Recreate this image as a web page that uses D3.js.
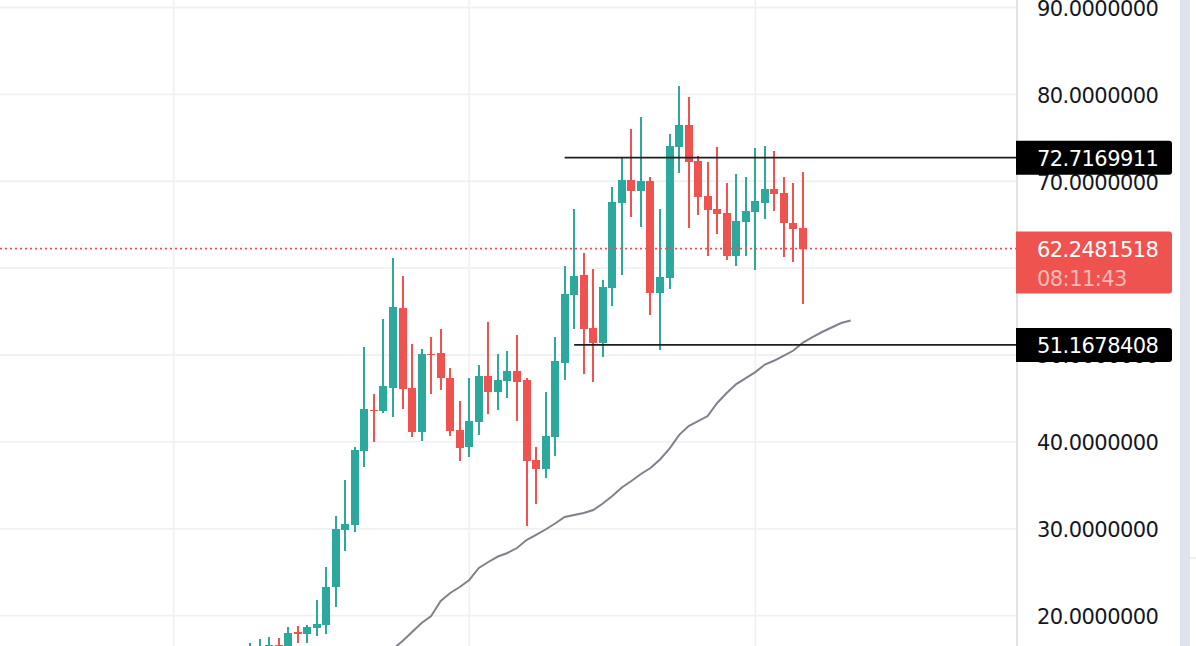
<!DOCTYPE html>
<html>
<head>
<meta charset="utf-8">
<script src="https://cdn.jsdelivr.net/npm/d3@7"></script>
<style>
  html, body { margin: 0; padding: 0; background: #fff; overflow: hidden; }
  svg { display: block; }
  text { font-family: "DejaVu Sans", sans-serif; font-size: 21px; letter-spacing: -0.55px; }
</style>
</head>
<body>
<svg id="chart" width="1196" height="646"></svg>
<script>
// one entry per daily bar, first bars are mostly below the visible area
const opens = [15.82, 15.82, 16.28, 16.63, 16.52, 18.07, 17.90, 18.59, 18.93, 23.30,
  29.86, 30.44, 38.95, 43.67, 43.56, 46.20, 55.41, 46.20, 41.14, 50.12,
  50.23, 47.35, 41.37, 39.41, 42.29, 47.58, 45.74, 47.01, 48.16, 47.12,
  37.92, 36.88, 40.56, 49.08, 56.90, 59.21, 53.11, 51.38, 57.71, 67.49,
  70.14, 68.87, 70.02, 57.13, 58.86, 73.93, 76.47, 72.32, 68.30, 66.80,
  66.34, 61.39, 65.30, 66.46, 67.49, 69.10, 68.64, 65.19, 64.61];
const highs = [16.86, 17.32, 17.55, 17.44, 18.70, 18.82, 18.93, 21.81, 25.61, 31.47,
  35.62, 39.41, 50.92, 45.51, 54.14, 61.16, 59.09, 51.27, 50.69, 52.07,
  52.99, 48.50, 44.71, 47.35, 48.85, 53.80, 50.12, 50.46, 52.30, 47.35,
  39.41, 45.74, 52.07, 60.24, 66.80, 61.74, 59.90, 58.63, 69.33, 72.67,
  76.01, 77.39, 70.48, 66.80, 75.43, 80.95, 79.69, 72.90, 72.21, 73.93,
  69.79, 70.83, 70.48, 73.82, 74.05, 73.47, 70.48, 69.79, 71.06];
const lows = [15.36, 15.48, 15.71, 15.82, 16.05, 16.86, 16.86, 17.67, 17.90, 21.00,
  27.45, 29.63, 37.11, 39.99, 43.33, 42.87, 43.79, 40.56, 40.10, 45.51,
  45.97, 40.68, 37.80, 38.26, 40.79, 43.21, 43.67, 45.05, 42.40, 30.32,
  32.85, 35.85, 38.38, 47.12, 52.99, 47.81, 46.89, 49.77, 55.64, 59.21,
  65.88, 64.73, 54.60, 50.57, 57.59, 70.94, 64.61, 66.11, 61.39, 63.92,
  60.93, 60.24, 61.39, 59.78, 65.65, 66.57, 61.28, 60.70, 55.87];
const closes = [16.28, 16.40, 16.63, 16.40, 18.01, 17.90, 18.70, 19.05, 23.30, 29.98,
  30.55, 39.07, 43.78, 43.56, 46.43, 55.52, 46.09, 41.14, 50.12, 50.00,
  47.35, 41.25, 39.30, 42.40, 47.58, 45.74, 47.12, 48.16, 46.89, 37.80,
  36.88, 40.68, 49.31, 57.02, 59.09, 52.99, 51.38, 57.83, 67.61, 70.14,
  68.87, 70.02, 57.13, 58.98, 74.05, 76.47, 72.21, 68.18, 66.69, 66.23,
  61.39, 65.42, 66.57, 67.72, 69.10, 68.53, 65.19, 64.50, 62.25];

// moving average, starts at bar 15 and runs 5 bars past the last candle
const maStart = 15;
const maValues = [16.17, 17.09, 18.13, 19.16, 19.97, 21.69, 22.61, 23.30, 24.11, 25.49,
  26.18, 26.81, 27.22, 27.79, 28.71, 29.29, 29.92, 30.61, 31.36, 31.59,
  31.82, 32.16, 32.91, 33.78, 34.75, 35.50, 36.31, 37.00, 37.98, 39.24,
  40.79, 41.83, 42.40, 42.98, 44.48, 45.63, 46.66, 47.35, 48.04, 48.91,
  49.37, 49.94, 50.52, 51.44, 52.07, 52.65, 53.17, 53.68, 53.97];

const priceTicks = [20, 30, 40, 50, 60, 70, 80, 90];
const timeGridBars = [-8, 23, 53];

const lastPrice = 62.2481518;
const countdown = "08:11:43";
const levelPrices = [72.7169911, 51.1678408];
const levelStartBars = [33, 34];

const upColor = "#2ca89c";
const downColor = "#ef5350";
const gridColor = "#f1f1f2";
const borderColor = "#e2e2e4";

const axisX = 1017;
const svg = d3.select("#chart");

// bar 0 and bar 58 are the first and last candle
const x = d3.scaleLinear().domain([0, 58]).range([250, 803]);
const y = d3.scaleLinear().domain([20, 90]).range([615.7, 7.5]);

// grid
svg.append("g").selectAll("line")
  .data(priceTicks)
  .join("line")
  .attr("x1", 0)
  .attr("x2", axisX)
  .attr("y1", d => y(d))
  .attr("y2", d => y(d))
  .attr("stroke", gridColor)
  .attr("stroke-width", 1.8);

svg.append("g").selectAll("line")
  .data(timeGridBars)
  .join("line")
  .attr("x1", d => x(d))
  .attr("x2", d => x(d))
  .attr("y1", 0)
  .attr("y2", 646)
  .attr("stroke", gridColor)
  .attr("stroke-width", 1.8);

// moving average
const maLine = d3.line()
  .x((d, i) => x(maStart + i))
  .y(d => y(d));

svg.append("path")
  .attr("d", maLine(maValues))
  .attr("fill", "none")
  .attr("stroke", "#7f818d")
  .attr("stroke-width", 2);

// candles
const bars = d3.range(opens.length);
const barColor = i => closes[i] >= opens[i] ? upColor : downColor;

svg.append("g").selectAll("rect")
  .data(bars)
  .join("rect")
  .attr("x", i => Math.round(x(i)) - 1)
  .attr("width", 2)
  .attr("y", i => y(highs[i]))
  .attr("height", i => y(lows[i]) - y(highs[i]))
  .attr("fill", barColor)
  .attr("shape-rendering", "crispEdges");

svg.append("g").selectAll("rect")
  .data(bars)
  .join("rect")
  .attr("x", i => Math.round(x(i)) - 4)
  .attr("width", 8)
  .attr("y", i => y(Math.max(opens[i], closes[i])))
  .attr("height", i => Math.abs(y(opens[i]) - y(closes[i])))
  .attr("fill", barColor)
  .attr("shape-rendering", "crispEdges");

// last price line
svg.append("line")
  .attr("x1", 0)
  .attr("x2", axisX)
  .attr("y1", y(lastPrice))
  .attr("y2", y(lastPrice))
  .attr("stroke", downColor)
  .attr("stroke-width", 1.8)
  .attr("stroke-dasharray", "2 3");

// horizontal levels
svg.append("g").selectAll("line")
  .data(levelPrices)
  .join("line")
  .attr("x1", (d, i) => x(levelStartBars[i]))
  .attr("x2", axisX)
  .attr("y1", d => y(d))
  .attr("y2", d => y(d))
  .attr("stroke", "#1e1e1e")
  .attr("stroke-width", 1.8);

// price axis panel
svg.append("rect")
  .attr("x", axisX)
  .attr("y", 0)
  .attr("width", 179)
  .attr("height", 646)
  .attr("fill", "#fff");

svg.append("line")
  .attr("x1", axisX)
  .attr("x2", axisX)
  .attr("y1", 0)
  .attr("y2", 646)
  .attr("stroke", borderColor)
  .attr("stroke-width", 2);

svg.append("rect")
  .attr("x", 1180)
  .attr("y", 0)
  .attr("width", 10)
  .attr("height", 646)
  .attr("fill", "#dfe3ec");

svg.append("line")
  .attr("x1", 1190)
  .attr("x2", 1196)
  .attr("y1", 558)
  .attr("y2", 558)
  .attr("stroke", borderColor);

const yAxis = d3.axisRight(y)
  .tickValues(priceTicks)
  .tickFormat(d => d.toFixed(7))
  .tickSize(0)
  .tickPadding(0);

const axisG = svg.append("g")
  .attr("transform", "translate(1037,0)")
  .call(yAxis);
axisG.select(".domain").remove();
axisG.selectAll("text")
  .attr("dy", "0.37em")
  .attr("fill", "#131722");

// price labels on the axis
function roundedRight(top, bottom) {
  const path = d3.path();
  const left = 1016, right = 1172, r = 3;
  path.moveTo(left, top);
  path.lineTo(right - r, top);
  path.arcTo(right, top, right, top + r, r);
  path.lineTo(right, bottom - r);
  path.arcTo(right, bottom, right - r, bottom, r);
  path.lineTo(left, bottom);
  path.closePath();
  return path.toString();
}

svg.append("g").selectAll("path")
  .data(levelPrices)
  .join("path")
  .attr("d", d => roundedRight(y(d) - 17, y(d) + 17))
  .attr("fill", "#000");

svg.append("g").selectAll("text")
  .data(levelPrices)
  .join("text")
  .attr("x", 1037)
  .attr("y", d => y(d) + 8)
  .attr("fill", "#fff")
  .text(d => d.toFixed(7));

svg.append("path")
  .attr("d", roundedRight(y(lastPrice) - 17, y(lastPrice) + 45))
  .attr("fill", downColor);

svg.append("text")
  .attr("x", 1037)
  .attr("y", y(lastPrice) + 8.4)
  .attr("fill", "#fff")
  .text(lastPrice.toFixed(7));

svg.append("text")
  .attr("x", 1037)
  .attr("y", y(lastPrice) + 37)
  .attr("fill", "#fff")
  .attr("fill-opacity", 0.6)
  .text(countdown);
</script>
</body>
</html>
